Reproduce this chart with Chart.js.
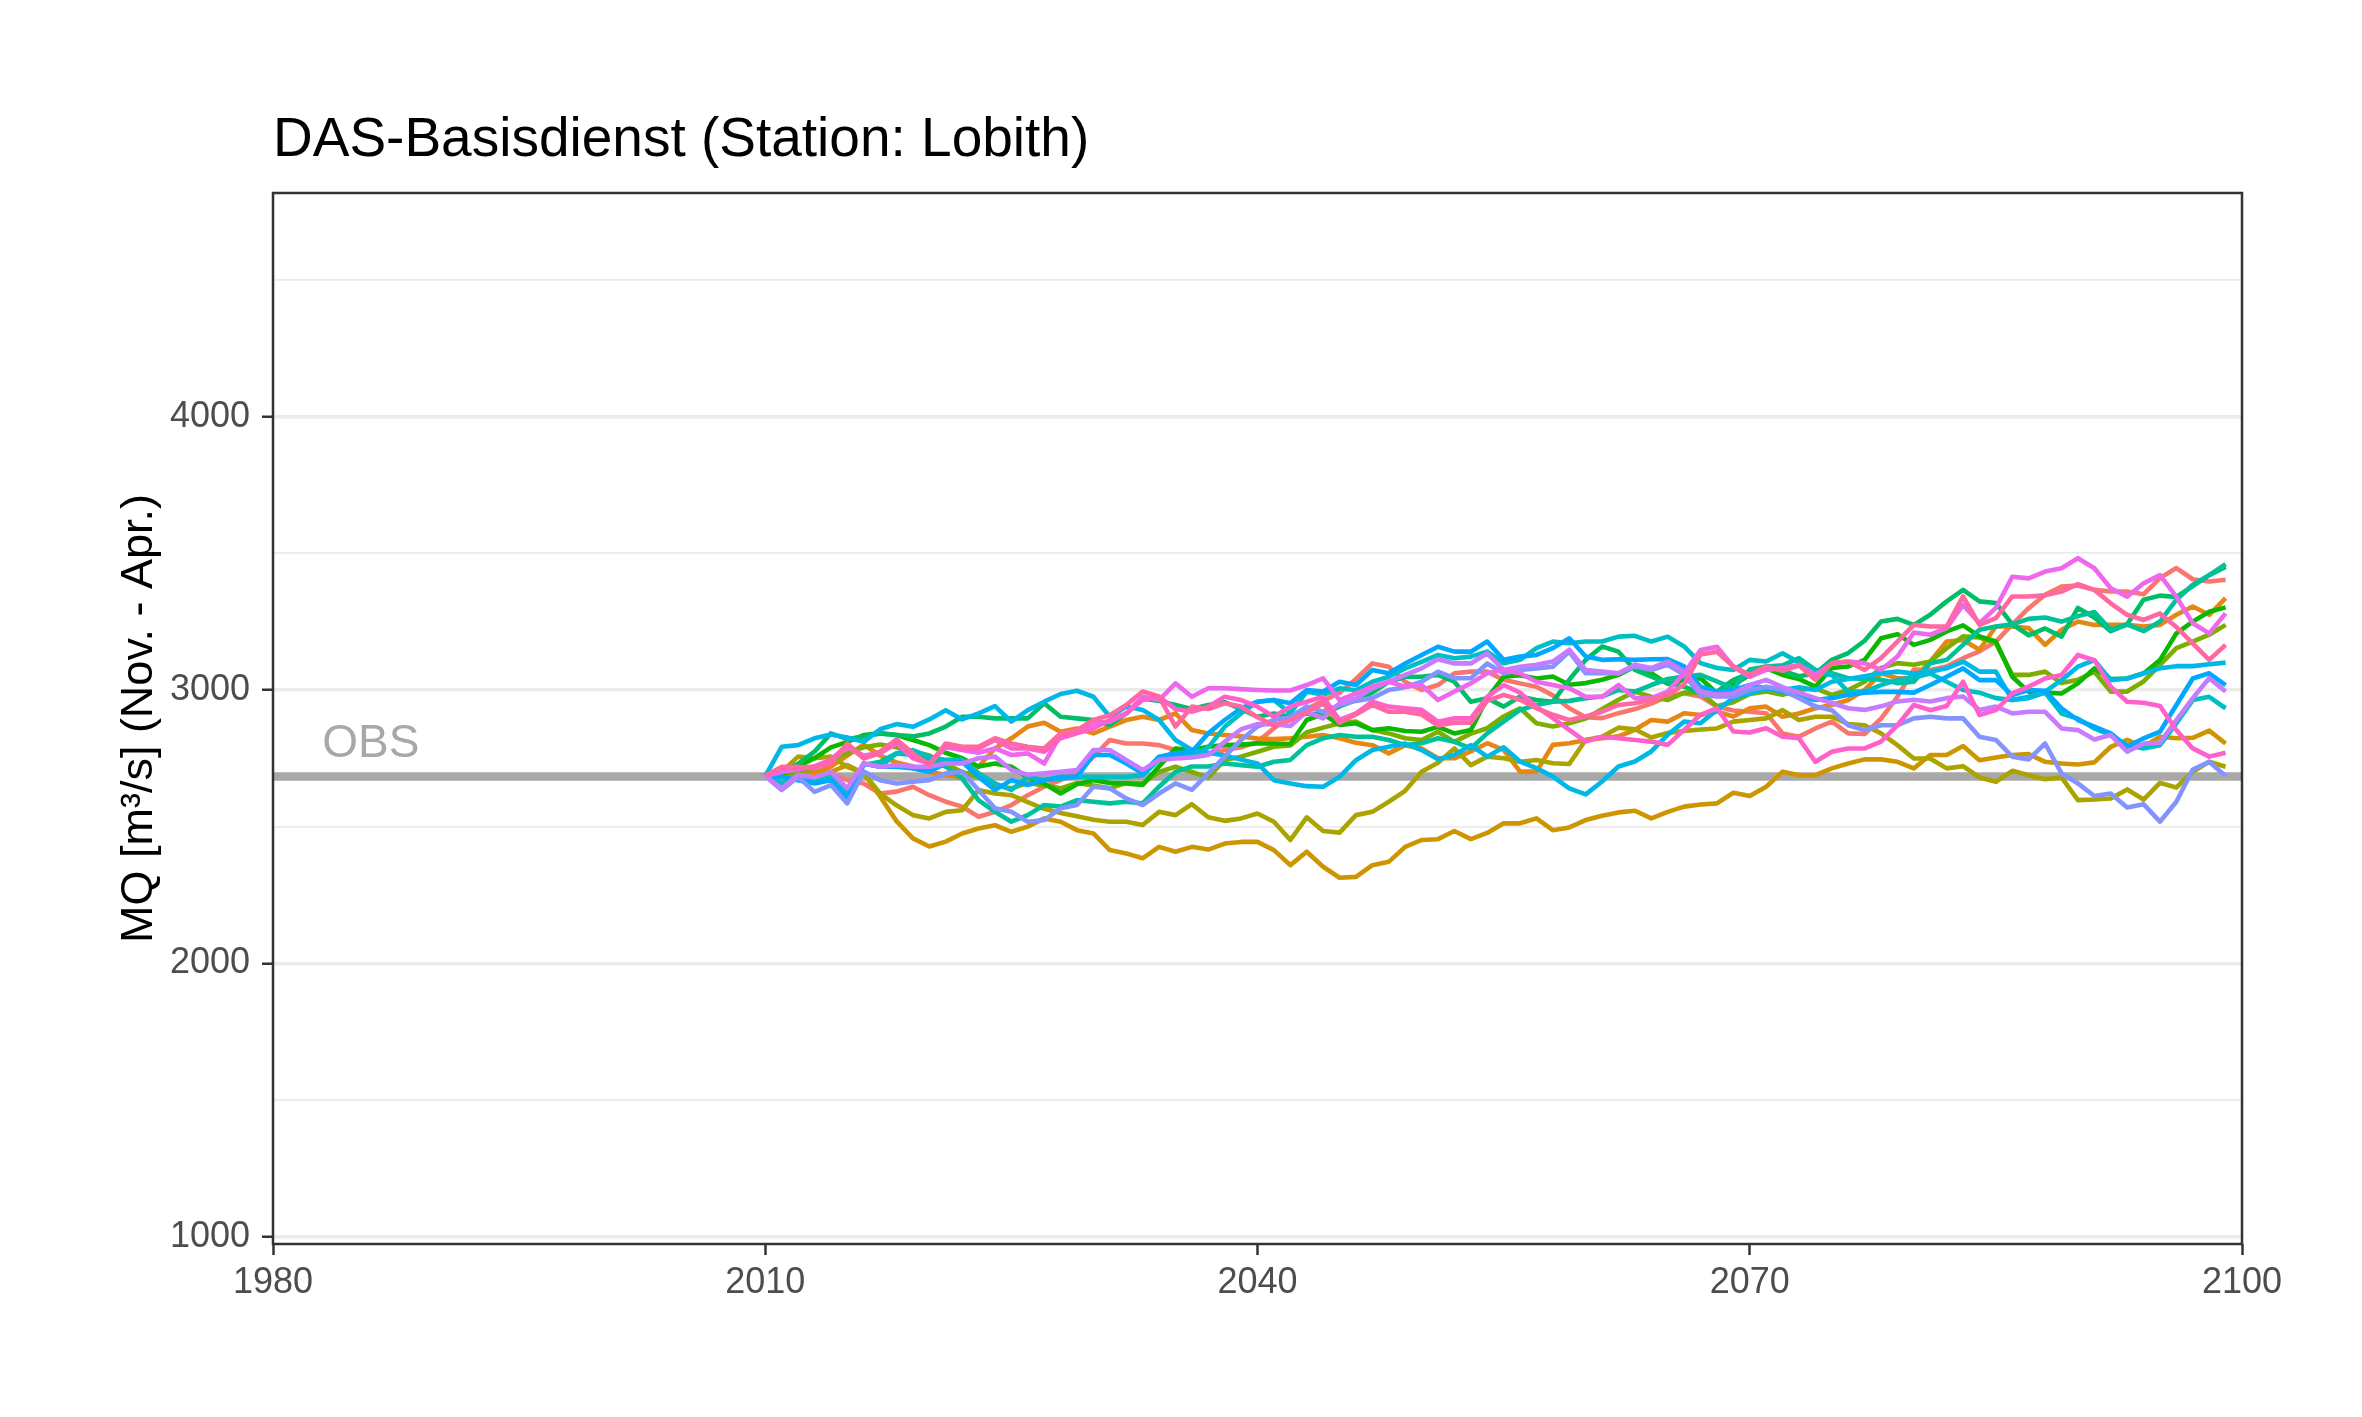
<!DOCTYPE html>
<html lang="de">
<head>
    <meta charset="UTF-8">
    <title>DAS-Basisdienst (Station: Lobith)</title>
    <script src="https://cdn.jsdelivr.net/npm/chart.js"></script>
    <style>
        html, body { margin: 0; padding: 0; background: #ffffff; }
        #wrap { width: 2362px; height: 1417px; }
        canvas { display: block; }
    </style>
</head>
<body>
<div id="wrap"><canvas id="mqChart" width="2362" height="1417"></canvas></div>
<script>
// Texts
const titleText = 'DAS-Basisdienst (Station: Lobith)';
const yAxisTitle = 'MQ [m³/s] (Nov. - Apr.)';
const obsText = 'OBS';

// Axes
const xTicks = [1980, 2010, 2040, 2070, 2100];
const yTicks = [1000, 1500, 2000, 2500, 3000, 3500, 4000, 4500];
const yLabelled = [1000, 2000, 3000, 4000];

// Observed reference level and its label anchor
const obsValue = 2683;
const obsLabelYear = 1983;
const obsLabelValue = 2755;

// Years of the projection runs
const years = [
    2010, 2011, 2012, 2013, 2014, 2015, 2016, 2017, 2018, 2019,
    2020, 2021, 2022, 2023, 2024, 2025, 2026, 2027, 2028, 2029,
    2030, 2031, 2032, 2033, 2034, 2035, 2036, 2037, 2038, 2039,
    2040, 2041, 2042, 2043, 2044, 2045, 2046, 2047, 2048, 2049,
    2050, 2051, 2052, 2053, 2054, 2055, 2056, 2057, 2058, 2059,
    2060, 2061, 2062, 2063, 2064, 2065, 2066, 2067, 2068, 2069,
    2070, 2071, 2072, 2073, 2074, 2075, 2076, 2077, 2078, 2079,
    2080, 2081, 2082, 2083, 2084, 2085, 2086, 2087, 2088, 2089,
    2090, 2091, 2092, 2093, 2094, 2095, 2096, 2097, 2098, 2099
];

// MQ per run (m³/s)
const run01 = [
    2685, 2700, 2715, 2700, 2690, 2670, 2658, 2621, 2628, 2646,
    2615, 2591, 2573, 2536, 2554, 2579, 2615, 2646, 2670, 2701,
    2755, 2817, 2804, 2804, 2798, 2780, 2770, 2765, 2780, 2790,
    2810, 2860, 2900, 2930, 2960, 2990, 3040, 3097, 3085, 3030,
    3000, 3018, 3061, 3067, 3067, 3037, 3024, 3012, 2980, 2933,
    2900, 2897, 2915, 2930, 2950, 2976, 2988, 2976, 2939, 2925,
    2920, 2915, 2841, 2829, 2859, 2884, 2841, 2839, 2895, 2975,
    3075, 3073, 3086, 3116, 3141, 3177, 3240, 3299, 3348, 3378,
    3382, 3366, 3360, 3360, 3350, 3409, 3446, 3405, 3397, 3403
];
const run02 = [
    2685, 2695, 2700, 2690, 2720, 2760, 2800, 2760, 2735, 2720,
    2700, 2690, 2680, 2720, 2786, 2823, 2866, 2880, 2847, 2859,
    2841, 2866, 2890, 2902, 2890, 2914, 2853, 2841, 2835, 2830,
    2822, 2820, 2823, 2829, 2835, 2823, 2807, 2798, 2768, 2798,
    2786, 2750, 2750, 2775, 2805, 2781, 2701, 2701, 2799, 2805,
    2817, 2823, 2830, 2854, 2890, 2884, 2915, 2908, 2921, 2903,
    2933, 2939, 2902, 2914, 2933, 2945, 2963, 3000, 3061, 3043,
    3043, 3104, 3177, 3183, 3147, 3232, 3232, 3226, 3165, 3220,
    3250, 3238, 3238, 3238, 3232, 3238, 3275, 3305, 3275, 3336
];
const run03 = [
    2685, 2700, 2690, 2710, 2700, 2725, 2695, 2610, 2520, 2457,
    2427, 2445, 2475, 2493, 2505, 2481, 2500, 2530, 2518, 2487,
    2475, 2414, 2402, 2384, 2426, 2408, 2426, 2416, 2438, 2444,
    2444, 2414, 2359, 2408, 2353, 2313, 2316, 2359, 2371, 2426,
    2451, 2454, 2484, 2454, 2477, 2512, 2512, 2530, 2487, 2497,
    2524, 2540, 2552, 2558, 2530, 2554, 2573, 2581, 2585, 2624,
    2612, 2646, 2701, 2688, 2688, 2713, 2731, 2746, 2746, 2737,
    2713, 2762, 2762, 2795, 2743, 2753, 2762, 2765, 2737, 2731,
    2727, 2735, 2792, 2817, 2792, 2829, 2823, 2825, 2851, 2804
];
const run04 = [
    2685, 2700, 2756, 2750, 2756, 2719, 2695, 2621, 2578, 2542,
    2530, 2554, 2560, 2634, 2621, 2615, 2590, 2565, 2550, 2538,
    2525, 2518, 2518, 2506, 2554, 2542, 2582, 2534, 2521, 2530,
    2548, 2518, 2451, 2534, 2484, 2478, 2542, 2554, 2591, 2631,
    2701, 2734, 2786, 2725, 2756, 2750, 2737, 2744, 2732, 2729,
    2817, 2829, 2862, 2856, 2826, 2843, 2850, 2855, 2859, 2884,
    2890, 2896, 2926, 2890, 2902, 2902, 2875, 2871, 2841, 2798,
    2749, 2749, 2713, 2721, 2680, 2664, 2704, 2688, 2673, 2680,
    2597, 2599, 2603, 2636, 2599, 2660, 2643, 2701, 2737, 2719
];
const run05 = [
    2685, 2680, 2700, 2715, 2740, 2770, 2790, 2800, 2790, 2775,
    2760, 2730, 2700, 2680, 2650, 2640, 2660, 2650, 2640, 2660,
    2650, 2640, 2660, 2658, 2700, 2719, 2700, 2680, 2744, 2756,
    2774, 2792, 2797, 2845, 2862, 2878, 2884, 2853, 2841, 2823,
    2817, 2847, 2810, 2840, 2860, 2903, 2933, 2878, 2866, 2878,
    2895, 2930, 2964, 2994, 2975, 2963, 2990, 2990, 2940, 2955,
    2985, 2994, 2982, 3000, 3006, 2982, 3000, 3030, 3080, 3098,
    3092, 3104, 3153, 3196, 3192, 3171, 3055, 3055, 3067, 3025,
    3037, 3067, 2994, 2994, 3031, 3092, 3153, 3177, 3202, 3238
];
const run06 = [
    2685, 2690, 2720, 2750, 2790, 2810, 2835, 2841, 2835, 2817,
    2798, 2770, 2750, 2720, 2731, 2719, 2680, 2658, 2621, 2655,
    2670, 2660, 2658, 2652, 2720, 2786, 2780, 2792, 2798, 2800,
    2804, 2804, 2802, 2890, 2912, 2872, 2878, 2853, 2860, 2850,
    2847, 2865, 2841, 2853, 2970, 3048, 3054, 3042, 3049, 3019,
    3025, 3037, 3055, 3086, 3061, 3022, 3037, 3043, 2988, 3018,
    3055, 3080, 3055, 3040, 3012, 3080, 3086, 3110, 3189, 3204,
    3165, 3183, 3214, 3236, 3196, 3177, 3048, 2993, 2990, 2987,
    3024, 3079, 3040, 3042, 3060, 3109, 3207, 3250, 3286, 3302
];
const run07 = [
    2685, 2700, 2730, 2774, 2841, 2820, 2830, 2841, 2835, 2830,
    2841, 2866, 2902, 2902, 2896, 2896, 2896, 2951, 2902, 2896,
    2890, 2872, 2914, 2969, 2960, 2945, 2930, 2945, 2955, 2930,
    2902, 2914, 2902, 2914, 2910, 2940, 2963, 2990, 3030, 3048,
    3048, 3055, 3030, 2957, 2970, 2939, 2976, 2963, 2957, 3037,
    3110, 3159, 3140, 3073, 3049, 3025, 3012, 2988, 2994, 3037,
    3061, 3086, 3070, 3050, 3060, 3110, 3135, 3180, 3250, 3260,
    3238, 3275, 3324, 3366, 3324, 3318, 3240, 3200, 3225, 3195,
    3300, 3265, 3215, 3240, 3330, 3345, 3340, 3380, 3420, 3450
];
const run08 = [
    2685, 2658, 2682, 2664, 2682, 2621, 2725, 2737, 2768, 2762,
    2744, 2719, 2676, 2597, 2554, 2518, 2542, 2579, 2573, 2597,
    2591, 2585, 2591, 2585, 2646, 2700, 2720, 2720, 2731, 2725,
    2719, 2737, 2744, 2798, 2823, 2835, 2829, 2829, 2817, 2798,
    2805, 2823, 2810, 2786, 2841, 2884, 2927, 2945, 2957, 2960,
    2970, 2976, 3000, 2994, 3018, 3040, 3049, 3055, 3031, 3006,
    3075, 3086, 3090, 3116, 3073, 3061, 3043, 3040, 3037, 3025,
    3030, 3098, 3110, 3165, 3220, 3232, 3240, 3260, 3265, 3250,
    3270, 3285, 3220, 3240, 3215, 3250, 3330, 3385, 3420, 3460
];
const run09 = [
    2685, 2658, 2682, 2676, 2682, 2621, 2731, 2719, 2768, 2780,
    2756, 2744, 2744, 2695, 2658, 2634, 2682, 2670, 2676, 2682,
    2682, 2682, 2682, 2688, 2744, 2762, 2756, 2790, 2865, 2914,
    2957, 2963, 2914, 2994, 2982, 3006, 2999, 3030, 3048, 3079,
    3103, 3128, 3116, 3122, 3140, 3098, 3110, 3153, 3177, 3171,
    3177, 3177, 3195, 3198, 3177, 3195, 3159, 3098, 3080, 3073,
    3110, 3104, 3134, 3100, 3061, 3055, 2994, 2994, 3018, 3037,
    3045, 3060, 3030, 3000, 2990, 2970, 2963, 2970, 2990, 2914,
    2895, 2859, 2835, 2798, 2786, 2798, 2878, 2963, 2975, 2933
];
const run10 = [
    2685, 2792, 2798, 2823, 2837, 2826, 2810, 2856, 2875, 2865,
    2892, 2926, 2892, 2914, 2941, 2884, 2926, 2957, 2985, 2997,
    2975, 2902, 2939, 2927, 2890, 2817, 2780, 2770, 2760, 2745,
    2731, 2670, 2658, 2648, 2646, 2682, 2743, 2780, 2792, 2804,
    2780, 2746, 2762, 2798, 2756, 2790, 2738, 2714, 2683, 2640,
    2618, 2665, 2720, 2738, 2775, 2836, 2884, 2878, 2927, 2970,
    2988, 3006, 3000, 3010, 3000, 3030, 3040, 3050, 3061, 3067,
    3060, 3067, 3079, 3104, 3067, 3067, 2963, 2975, 2994, 3036,
    3085, 3109, 3036, 3042, 3061, 3079, 3087, 3087, 3094, 3100
];
const run11 = [
    2685, 2682, 2670, 2658, 2670, 2603, 2731, 2719, 2719, 2713,
    2701, 2731, 2737, 2682, 2634, 2670, 2652, 2670, 2682, 2682,
    2762, 2762, 2731, 2695, 2756, 2768, 2774, 2841, 2890, 2933,
    2957, 2963, 2951, 3000, 2994, 3030, 3018, 3073, 3061, 3097,
    3128, 3158, 3140, 3140, 3177, 3110, 3122, 3128, 3153, 3189,
    3122, 3110, 3112, 3110, 3112, 3113, 3086, 3012, 2994, 3000,
    3018, 3006, 2994, 2975, 2963, 2970, 2982, 2990, 2993, 2993,
    2990, 3018, 3048, 3079, 3036, 3036, 2981, 3000, 2997, 2933,
    2890, 2866, 2841, 2792, 2823, 2847, 2945, 3042, 3061, 3018
];
const run12 = [
    2685, 2634, 2682, 2627, 2652, 2585, 2701, 2670, 2658, 2664,
    2670, 2695, 2701, 2634, 2567, 2554, 2518, 2524, 2567, 2579,
    2646, 2640, 2603, 2579, 2621, 2658, 2634, 2695, 2756, 2817,
    2866, 2890, 2900, 2940, 2920, 2945, 2960, 2970, 3000, 3010,
    3030, 3067, 3043, 3043, 3097, 3060, 3073, 3079, 3085, 3140,
    3061, 3061, 3061, 3086, 3073, 3092, 3055, 2982, 2976, 2976,
    3000, 3012, 3000, 2970, 2940, 2926, 2871, 2853, 2871, 2871,
    2896, 2902, 2896, 2896, 2829, 2817, 2756, 2746, 2804, 2695,
    2658, 2612, 2621, 2570, 2582, 2518, 2591, 2709, 2737, 2685
];
const run13 = [
    2685, 2640, 2690, 2680, 2700, 2640, 2731, 2719, 2725, 2719,
    2719, 2731, 2731, 2750, 2756, 2707, 2690, 2695, 2701, 2707,
    2780, 2780, 2744, 2707, 2744, 2749, 2753, 2762, 2810, 2856,
    2875, 2875, 2868, 2920, 2896, 2951, 2969, 3006, 3030, 3055,
    3079, 3112, 3097, 3097, 3134, 3073, 3085, 3092, 3104, 3147,
    3073, 3067, 3061, 3092, 3080, 3104, 3067, 2994, 2982, 2988,
    3018, 3037, 3010, 2990, 2970, 2952, 2933, 2927, 2940, 2958,
    2964, 2958, 2970, 2976, 2927, 2939, 2914, 2920, 2920, 2859,
    2853, 2819, 2835, 2774, 2804, 2807, 2890, 2970, 3043, 2994
];
const run14 = [
    2685, 2700, 2710, 2720, 2740, 2790, 2760, 2770, 2810, 2760,
    2730, 2790, 2780, 2770, 2786, 2762, 2768, 2731, 2835, 2847,
    2878, 2884, 2914, 2975, 2963, 3024, 2975, 3006, 3006, 3003,
    3000, 2998, 2998, 3018, 3042, 2963, 2987, 3012, 3030, 3012,
    3018, 2963, 2994, 3024, 3061, 3073, 3061, 3030, 3018, 3006,
    2975, 2975, 3018, 2970, 2970, 2994, 3061, 3146, 3158, 3085,
    3048, 3073, 3080, 3091, 3055, 3097, 3104, 3098, 3073, 3122,
    3210, 3202, 3226, 3311, 3244, 3300, 3414, 3408, 3433, 3445,
    3482, 3445, 3372, 3341, 3390, 3420, 3341, 3244, 3207, 3280
];
const run15 = [
    2685, 2715, 2715, 2720, 2745, 2798, 2750, 2768, 2805, 2750,
    2731, 2798, 2786, 2786, 2817, 2786, 2786, 2774, 2823, 2841,
    2860, 2890, 2914, 2963, 2975, 2930, 2920, 2939, 2975, 2963,
    2939, 2902, 2939, 2957, 2975, 2890, 2914, 2957, 2939, 2933,
    2927, 2884, 2896, 2896, 2975, 3018, 2990, 2939, 2897, 2854,
    2811, 2829, 2823, 2817, 2811, 2799, 2854, 2909, 2933, 2848,
    2844, 2860, 2829, 2823, 2737, 2774, 2786, 2786, 2811, 2871,
    2945, 2926, 2941, 3030, 2908, 2926, 2987, 3012, 3042, 3055,
    3128, 3109, 3012, 2957, 2953, 2941, 2853, 2786, 2756, 2770
];
const run16 = [
    2685, 2719, 2719, 2713, 2731, 2804, 2750, 2774, 2819, 2768,
    2725, 2804, 2792, 2792, 2823, 2804, 2792, 2786, 2841, 2853,
    2890, 2908, 2945, 2994, 2976, 2866, 2939, 2930, 2951, 2939,
    2900, 2870, 2890, 2920, 2950, 2880, 2910, 2945, 2920, 2920,
    2910, 2870, 2880, 2880, 2960, 2982, 2964, 2933, 2909, 2890,
    2903, 2921, 2945, 2951, 2964, 2982, 3020, 3130, 3140, 3086,
    3055, 3086, 3070, 3090, 3037, 3098, 3104, 3073, 3116, 3177,
    3238, 3232, 3232, 3342, 3238, 3263, 3342, 3342, 3346, 3360,
    3387, 3366, 3317, 3275, 3256, 3280, 3230, 3170, 3110, 3165
];

const runs = [run01, run02, run03, run04, run05, run06, run07, run08,
              run09, run10, run11, run12, run13, run14, run15, run16];
const runColors = ['#F8766D', '#E68613', '#CD9600', '#ABA300', '#7CAE00', '#0CB702',
                   '#00BE67', '#00C19A', '#00BFC4', '#00B8E7', '#00A9FF', '#8494FF',
                   '#C77CFF', '#ED68ED', '#FF61CC', '#FF68A1'];

const FONT = '"Liberation Sans", Arial, Helvetica, sans-serif';

// later runs sit on top, like the plotting order of the original
const datasets = runs.map((vals, i) => ({
    label: 'Lauf ' + (i + 1),
    data: vals.map((v, k) => ({ x: years[k], y: v })),
    borderColor: runColors[i],
    borderWidth: 4.6,
    borderJoinStyle: 'round',
    pointRadius: 0,
    tension: 0,
    order: runs.length - i,
}));

datasets.push({
    label: 'OBS',
    data: [{ x: xTicks[0], y: obsValue }, { x: xTicks[xTicks.length - 1], y: obsValue }],
    borderColor: '#A8A8A8',
    borderWidth: 8.5,
    pointRadius: 0,
    order: 100,
});

const decor = {
    id: 'decor',
    afterDraw(chart) {
        const { ctx, chartArea: a, scales: { x, y } } = chart;
        ctx.save();

        // panel border
        ctx.strokeStyle = '#333333';
        ctx.lineWidth = 2.5;
        ctx.strokeRect(a.left, a.top, a.right - a.left, a.bottom - a.top);

        // OBS label
        ctx.fillStyle = '#A8A8A8';
        ctx.font = '46px ' + FONT;
        ctx.textAlign = 'left';
        ctx.textBaseline = 'alphabetic';
        ctx.fillText(obsText, x.getPixelForValue(obsLabelYear), y.getPixelForValue(obsLabelValue));

        // title
        ctx.fillStyle = '#000000';
        ctx.font = '55px ' + FONT;
        ctx.fillText(titleText, a.left, 156);

        // y axis title
        ctx.translate(140, (a.top + a.bottom) / 2);
        ctx.rotate(-Math.PI / 2);
        ctx.textAlign = 'center';
        ctx.textBaseline = 'middle';
        ctx.font = '45px ' + FONT;
        ctx.fillText(yAxisTitle, 0, 0);

        ctx.restore();
    }
};

new Chart(document.getElementById('mqChart'), {
    type: 'line',
    data: { datasets },
    options: {
        responsive: false,
        devicePixelRatio: 1,
        animation: false,
        layout: { padding: { left: 0, right: 120, top: 193, bottom: 0 } },
        plugins: {
            legend: { display: false },
            tooltip: { enabled: false },
        },
        scales: {
            x: {
                type: 'linear',
                min: 1980,
                max: 2100,
                afterBuildTicks: s => { s.ticks = xTicks.map(v => ({ value: v })); },
                afterFit: s => { s.height = 173; },
                grid: {
                    drawOnChartArea: false,
                    drawTicks: true,
                    tickLength: 11,
                    tickColor: '#333333',
                    tickWidth: 2.5,
                },
                border: { display: false },
                ticks: {
                    color: '#4D4D4D',
                    font: { family: FONT, size: 36 },
                    padding: 6,
                    maxRotation: 0,
                    autoSkip: false,
                    callback: v => String(v),
                },
            },
            y: {
                type: 'linear',
                min: 973,
                max: 4818,
                afterBuildTicks: s => { s.ticks = yTicks.map(v => ({ value: v })); },
                afterFit: s => { s.width = 273; },
                grid: {
                    color: '#EBEBEB',
                    lineWidth: c => (yLabelled.includes(c.tick.value) ? 3.5 : 1.8),
                    drawTicks: true,
                    tickLength: 11,
                    tickWidth: 2.5,
                    tickColor: c => (yLabelled.includes(c.tick.value) ? '#333333' : 'rgba(0,0,0,0)'),
                },
                border: { display: false },
                ticks: {
                    color: '#4D4D4D',
                    font: { family: FONT, size: 36 },
                    padding: 12,
                    autoSkip: false,
                    callback: v => (yLabelled.includes(v) ? String(v) : ''),
                },
            },
        },
    },
    plugins: [decor],
});
</script>
</body>
</html>
